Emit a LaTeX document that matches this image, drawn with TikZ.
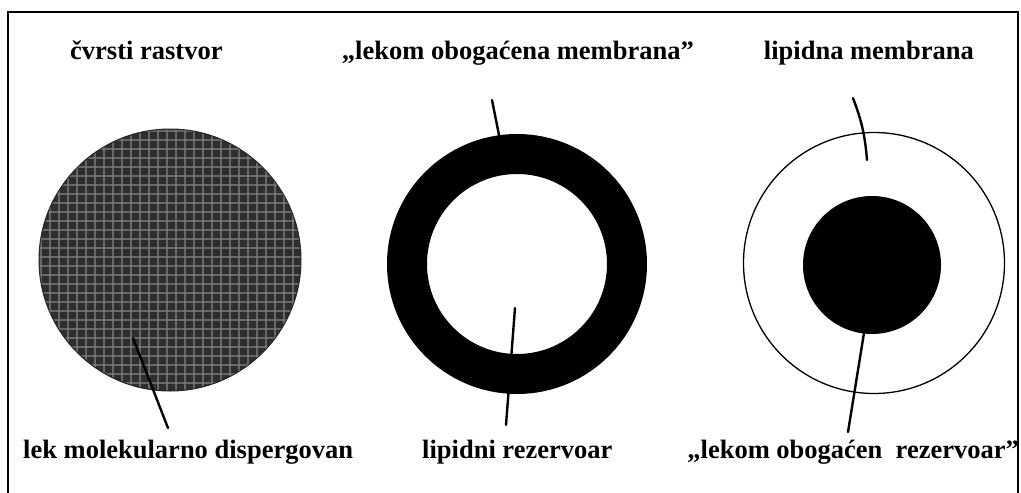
\documentclass[tikz,border=0pt]{standalone}
\usepackage{fontspec}
\setmainfont{Liberation Serif}

\begin{document}
\begin{tikzpicture}[
  x=1pt, y=-1pt,
  every node/.style={font=\fontsize{26.5}{30}\selectfont\bfseries},
  caption/.style={inner sep=0pt},
  disc/.style={circle, inner sep=0pt, outer sep=0pt},
  leader/.style={line width=2.4pt, line cap=round},
  gridline/.style={line width=1.3pt, black!50, opacity=0.7},
  frameline/.style={line width=2pt}
]
  \useasboundingbox (0,0) rectangle (1021,493);

  \draw[frameline] (8,493) -- (8,12) -- (1018,12) -- (1018,493);


  \node[caption, anchor=base west] (solidlbl)    at (70,59)   {čvrsti rastvor};
  \node[caption, anchor=base east] (enrichlbl)   at (694,59)  {„lekom obogaćena membrana”};
  \node[caption, anchor=base east] (lipidlbl)    at (974,59)  {lipidna membrana};

  \node[caption, anchor=base west] (druglbl)     at (23,458)  {lek molekularno dispergovan};
  \node[caption, anchor=base west] (reservlbl)   at (422,458) {lipidni rezervoar};
  \node[caption, anchor=base east] (enrreservlbl) at (1019,458) {„lekom obogaćen~ rezervoar”};


  \node[disc, minimum size=262, fill=black!82] (solution) at (170,260) {};
  \begin{scope}
    \clip (solution.center) circle[radius=131];
    \foreach \gx in {41,50,...,300}
      \draw[gridline] (\gx,128) -- (\gx,392);
    \foreach \gy in {131,140,...,390}
      \draw[gridline] (38,\gy) -- (302,\gy);
  \end{scope}
  \draw[black!85, line width=1pt] (solution.center) circle[radius=131];

  \node[disc, minimum size=220, draw, line width=40pt] (membrane) at (517,264) {};

  \node[disc, minimum size=261, draw, line width=1.3pt] (vesicle) at (874,263) {};
  \node[disc, minimum size=138, fill=black] (core) at (872,265) {};


  \coordinate (solidtip)   at (133,338);
  \coordinate (solidend)   at (168,428);
  \coordinate (membtop)    at (492,100);
  \coordinate (membtip)    at (500,140);
  \coordinate (reservtip)  at (515,308);
  \coordinate (reservend)  at (506,425);
  \coordinate (lipidtop)   at (853,98);
  \coordinate (lipidtip)   at (867,160);
  \coordinate (coretip)    at (864,333);
  \coordinate (coreend)    at (848,432);

  \draw[leader] (solidtip) -- (solidend);
  \draw[leader] (membtop) -- (membtip);
  \draw[leader] (reservtip) -- (reservend);
  \draw[leader] (lipidtop) to[bend left=8] (lipidtip);
  \draw[leader] (coretip) -- (coreend);
\end{tikzpicture}
\end{document}
